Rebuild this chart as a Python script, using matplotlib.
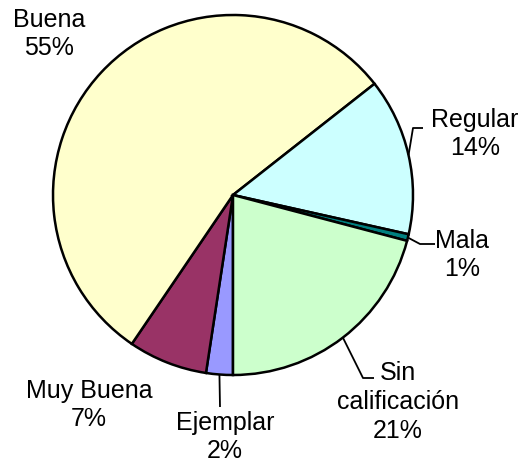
import matplotlib
matplotlib.use("Agg")
import matplotlib.pyplot as plt
import numpy as np

categories = ["Ejemplar", "Muy Buena", "Buena", "Regular", "Mala", "Sin\ncalificación"]
values = [2.4, 7.1, 54.9, 14.1, 0.6, 20.9]
colors = ["#9999FF", "#993366", "#FFFFCC", "#CCFFFF", "#008080", "#CCFFCC"]

plt.rcParams['font.family'] = ['Liberation Sans', 'DejaVu Sans']

W, H = 526, 466
fig = plt.figure(figsize=(W / 100, H / 100), dpi=100)
ax = fig.add_axes([0, 0, 1, 1])
cx, cy, R = 233, 195, 180

wedges, _ = ax.pie(values, colors=colors, startangle=-90, counterclock=False,
                   radius=1, center=(0, 0), frame=True,
                   wedgeprops=dict(edgecolor='black', linewidth=1.8))
ax.set_xlim(-cx / R, (W - cx) / R)
ax.set_ylim(-(H - cy) / R, cy / R)
ax.set_aspect('equal')
ax.axis('off')

def px(x, y):
    return ((x - cx) / R, (cy - y) / R)

# layout: text centre (px), leader bend points (px) or None
layout = {
    "Ejemplar": ((225, 437), [(220, 407)]),
    "Muy Buena": ((89, 405), None),
    "Buena": ((49, 34), None),
    "Regular": ((475, 134), [(413, 128), (423, 128)]),
    "Mala": ((462, 255), [(420, 244), (435, 244)]),
    "Sin\ncalificación": ((398, 402), [(363, 378), (374, 378)]),
}

for w, cat, v in zip(wedges, categories, values):
    (tx, ty), bends = layout[cat]
    label = f"{cat}\n{v:.0f}%"
    x, y = px(tx, ty)
    ax.text(x, y, label, ha='center', va='center', fontsize=18,
            linespacing=1.26, color='black')
    if bends:
        mid = np.deg2rad((w.theta1 + w.theta2) / 2)
        xs = [np.cos(mid)] + [px(*b)[0] for b in bends]
        ys = [np.sin(mid)] + [px(*b)[1] for b in bends]
        ax.plot(xs, ys, color='black', linewidth=1.3, solid_capstyle='butt')

fig.savefig("out.png", dpi=100)
